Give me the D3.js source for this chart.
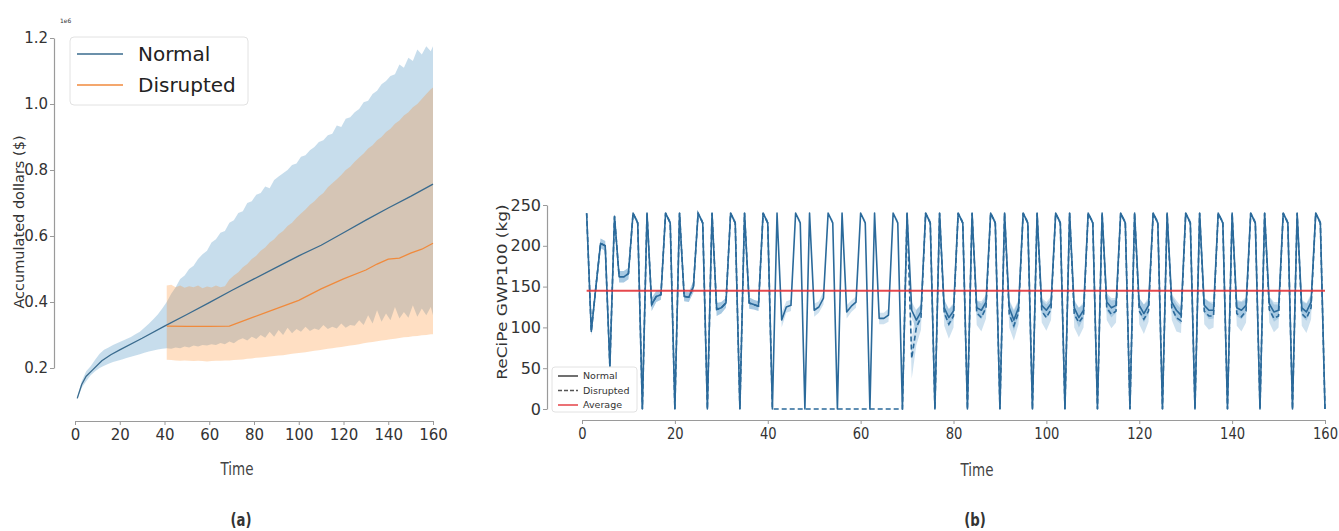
<!DOCTYPE html>
<html><head><meta charset="utf-8">
<script src="https://cdn.jsdelivr.net/npm/d3@7"></script>
<style>
body{margin:0;background:#fff;}
svg{display:block;}
text{font-family:"DejaVu Sans",Verdana,sans-serif;}
</style>
</head><body>
<svg id="c" width="1339" height="531"></svg>
<script>
// ---------------- DATA: panel (a) accumulated dollars (x1e6) ----------------
const normalMeanT = [1, 3, 5, 8, 12, 16, 20, 30, 40, 50, 60, 70, 80, 90, 100, 110, 120, 130, 140, 150, 160];
const normalMean  = [0.108, 0.15, 0.175, 0.195, 0.222, 0.24, 0.255, 0.29, 0.327, 0.362, 0.398, 0.435, 0.47, 0.505, 0.54, 0.572, 0.61, 0.648, 0.685, 0.72, 0.757];
const disruptedMeanT = [41, 50, 60, 69, 80, 90, 100, 110, 120, 130, 135, 140, 145, 150, 155, 160];
const disruptedMean  = [0.327, 0.326, 0.326, 0.327, 0.355, 0.38, 0.405, 0.44, 0.47, 0.497, 0.515, 0.53, 0.533, 0.548, 0.56, 0.578];

const normalBandT = d3.range(1, 160, 2).concat([160]);
const normalUpper = [0.112,0.16,0.19,0.205,0.225,0.243,0.255,0.262,0.27,0.276,
  0.282,0.288,0.294,0.302,0.31,0.322,0.334,0.348,0.362,0.38,
  0.40,0.425,0.445,0.47,0.48,0.50,0.51,0.53,0.545,0.555,
  0.58,0.59,0.61,0.615,0.64,0.648,0.67,0.675,0.70,0.705,
  0.725,0.73,0.75,0.745,0.77,0.78,0.79,0.80,0.815,0.82,
  0.84,0.845,0.86,0.87,0.885,0.89,0.905,0.91,0.935,0.93,
  0.955,0.96,0.975,0.985,1.005,1.01,1.03,1.04,1.06,1.07,
  1.085,1.09,1.12,1.11,1.14,1.13,1.165,1.15,1.175,1.16,1.175];
const normalLower = [0.105,0.14,0.16,0.178,0.19,0.2,0.207,0.213,0.218,0.222,
  0.226,0.23,0.234,0.238,0.242,0.246,0.25,0.253,0.256,0.258,
  0.26,0.258,0.262,0.26,0.265,0.262,0.268,0.265,0.27,0.268,
  0.272,0.27,0.276,0.272,0.28,0.275,0.285,0.29,0.283,0.295,
  0.288,0.30,0.292,0.31,0.295,0.315,0.30,0.322,0.305,0.318,
  0.31,0.325,0.312,0.32,0.315,0.33,0.318,0.325,0.32,0.335,
  0.322,0.33,0.328,0.345,0.33,0.36,0.335,0.375,0.34,0.365,
  0.345,0.385,0.35,0.37,0.352,0.39,0.355,0.38,0.36,0.385,0.36];

const disruptedBandT = d3.range(41, 160, 2).concat([160]);
const disruptedUpper = [0.45,0.452,0.445,0.45,0.443,0.448,0.445,0.45,0.442,0.447,
  0.444,0.45,0.445,0.448,0.468,0.48,0.49,0.505,0.515,0.53,
  0.54,0.555,0.565,0.58,0.59,0.605,0.615,0.63,0.64,0.655,
  0.668,0.68,0.695,0.705,0.72,0.73,0.748,0.76,0.772,0.785,
  0.80,0.81,0.825,0.838,0.85,0.865,0.875,0.89,0.9,0.915,
  0.925,0.94,0.95,0.965,0.975,0.99,1.0,1.015,1.03,1.045,1.05];
const disruptedLower = [0.225,0.224,0.223,0.222,0.223,0.222,0.221,0.222,0.221,0.22,
  0.221,0.222,0.222,0.223,0.223,0.224,0.225,0.226,0.228,0.229,
  0.231,0.232,0.233,0.235,0.236,0.238,0.239,0.241,0.243,0.245,
  0.246,0.248,0.25,0.252,0.254,0.256,0.258,0.26,0.262,0.264,
  0.266,0.268,0.27,0.272,0.275,0.277,0.279,0.281,0.283,0.285,
  0.287,0.289,0.291,0.293,0.294,0.296,0.297,0.299,0.3,0.302,0.302];

const leftXTicks = [0, 20, 40, 60, 80, 100, 120, 140, 160];
const leftYTicks = [0.2, 0.4, 0.6, 0.8, 1.0, 1.2];

// ---------------- DATA: panel (b) ReCiPe GWP100 (kg), t = 1..160 ----------------
const gwpT = d3.range(1, 161);
const normalGWP = [
  240,95,150,203,200,52,236,162,162,166,240,228,0,
  240,128,138,140,240,228,0,
  240,138,137,150,240,228,0,
  240,122,124,130,240,228,0,
  240,130,128,126,240,228,0,
  240,109,125,127,240,228,0,
  240,121,125,136,240,228,0,
  240,119,126,131,240,228,0,
  240,111,111,115,240,228,0,
  240,121,109,119,240,228,0,
  240,124,112,120,240,228,0,
  240,124,121,131,240,228,0,
  240,124,109,124,240,228,0,
  240,127,121,129,240,228,0,
  240,124,112,121,240,228,0,
  240,131,124,127,240,228,0,
  240,127,117,127,240,228,0,
  240,131,121,115,240,228,0,
  240,127,121,121,240,228,0,
  240,124,121,127,240,228,0,
  240,129,119,121,240,228,0,
  240,124,119,131,240,228,0];
const disruptedGWP = [
  240,95,150,203,200,52,236,162,162,166,240,228,0,
  240,128,138,140,240,228,0,
  240,138,137,150,240,228,0,
  240,122,124,130,240,228,0,
  240,130,128,126,240,228,
  0,0,0,0,0,0,0,0,0,0,0,0,0,0,0,0,0,0,0,0,0,0,0,0,0,0,0,0,0,
  240,62,100,112,240,228,0,
  240,118,104,114,240,228,0,
  240,118,112,124,240,228,0,
  240,116,102,118,240,228,0,
  240,120,112,122,240,228,0,
  240,116,106,114,240,228,0,
  240,124,116,120,240,228,0,
  240,120,110,120,240,228,0,
  240,124,112,108,240,228,0,
  240,120,114,114,240,228,0,
  240,117,113,120,240,228,0,
  240,122,111,114,240,228,0,
  240,117,111,124,240,228,0];
const normalSpread = [
  0,5,8,6,6,8,3,7,7,7,0,4,0,
  0,8,7,6,0,4,0,
  0,6,6,7,0,4,0,
  0,8,7,6,0,4,0,
  0,7,6,6,0,4,0,
  0,9,7,7,0,4,0,
  0,8,7,8,0,4,0,
  0,8,7,7,0,4,0,
  0,7,7,8,0,4,0,
  0,10,12,10,0,4,0,
  0,10,11,10,0,4,0,
  0,9,11,9,0,4,0,
  0,10,13,10,0,4,0,
  0,9,10,9,0,4,0,
  0,10,12,10,0,4,0,
  0,11,12,9,0,4,0,
  0,9,11,10,0,4,0,
  0,10,12,11,0,4,0,
  0,9,11,10,0,4,0,
  0,10,11,10,0,4,0,
  0,9,12,10,0,4,0,
  0,10,11,10,0,4,0];
const disruptedSpread = [
  0,5,8,6,6,8,3,7,7,7,0,4,0,
  0,8,7,6,0,4,0,
  0,6,6,7,0,4,0,
  0,8,7,6,0,4,0,
  0,7,6,6,0,4,
  0,0,0,0,0,0,0,0,0,0,0,0,0,0,0,0,0,0,0,0,0,0,0,0,0,0,0,0,0,
  0,25,22,15,0,4,0,
  0,16,18,14,0,4,0,
  0,15,17,13,0,4,0,
  0,16,18,14,0,4,0,
  0,14,16,13,0,4,0,
  0,16,18,14,0,4,0,
  0,15,17,14,0,4,0,
  0,16,18,13,0,4,0,
  0,15,17,15,0,4,0,
  0,16,17,14,0,4,0,
  0,15,18,14,0,4,0,
  0,16,17,14,0,4,0,
  0,15,18,14,0,4,0];
const averageGWP = 145;
const rightXTicks = [0, 20, 40, 60, 80, 100, 120, 140, 160];
const rightYTicks = [0, 50, 100, 150, 200, 250];

// ---------------- DRAWING ----------------
const svg = d3.select("#c");
const AX = "#9a9a9a", TX = "#333";

function styleAxis(g, fs){
  g.select(".domain").attr("stroke", AX).attr("stroke-width", 1.2);
  g.selectAll(".tick line").attr("stroke", AX).attr("stroke-width", 1);
  g.selectAll(".tick text").attr("fill", TX).style("font-size", fs + "px").style("font-family", '"DejaVu Sans", sans-serif');
}
function label(x, y, str, size, weight, sx, fill){
  svg.append("text").attr("transform", `translate(${x},${y}) scale(${sx},1)`)
    .attr("text-anchor", "middle").style("font-size", size + "px")
    .style("font-weight", weight).attr("fill", fill).text(str);
}

// ===== Panel (a) =====
const xL = d3.scaleLinear().domain([0, 160]).range([75, 433]);
const yL = d3.scaleLinear().domain([0.2, 1.2]).range([368, 38]);
const gA = svg.append("g");

const nBand = normalBandT.map((t, i) => ({t, lo: normalLower[i], hi: normalUpper[i]}));
const dBand = disruptedBandT.map((t, i) => ({t, lo: disruptedLower[i], hi: disruptedUpper[i]}));
const areaL = d3.area().x(d => xL(d.t)).y0(d => yL(d.lo)).y1(d => yL(d.hi));
gA.append("path").datum(nBand).attr("d", areaL).attr("fill", "#1f77b4").attr("fill-opacity", 0.25);
gA.append("path").datum(dBand).attr("d", areaL).attr("fill", "#ff7f0e").attr("fill-opacity", 0.25);

const lineL = d3.line().x(d => xL(d[0])).y(d => yL(d[1]));
gA.append("path").datum(normalMeanT.map((t, i) => [t, normalMean[i]])).attr("d", lineL)
  .attr("fill", "none").attr("stroke", "#3a6b8e").attr("stroke-width", 1.3);
gA.append("path").datum(disruptedMeanT.map((t, i) => [t, disruptedMean[i]])).attr("d", lineL)
  .attr("fill", "none").attr("stroke", "#f08a3c").attr("stroke-width", 1.3);

const axLX = gA.append("g").attr("transform", "translate(0,421)")
  .call(d3.axisBottom(xL).tickValues(leftXTicks).tickSize(4).tickSizeOuter(0).tickPadding(4));
styleAxis(axLX, 15);
const axLY = gA.append("g").attr("transform", "translate(54,0)")
  .call(d3.axisLeft(yL).tickValues(leftYTicks).tickFormat(d3.format(".1f")).tickSize(4).tickSizeOuter(0).tickPadding(2));
styleAxis(axLY, 15);

svg.append("text").attr("x", 60).attr("y", 23).style("font-size", "6px").attr("fill", TX).text("1e6");
svg.append("text").attr("transform", "translate(24,222) rotate(-90)").attr("text-anchor", "middle")
  .style("font-size", "14.5px").attr("fill", TX).text("Accumulated dollars ($)");

// legend (a)
const lgA = svg.append("g");
lgA.append("rect").attr("x", 70).attr("y", 37).attr("width", 178).attr("height", 68).attr("rx", 4)
  .attr("fill", "#fff").attr("fill-opacity", 0.85).attr("stroke", "#e2e2e2");
lgA.append("line").attr("x1", 77).attr("x2", 123).attr("y1", 54).attr("y2", 54).attr("stroke", "#3a6b8e").attr("stroke-width", 1.3);
lgA.append("line").attr("x1", 77).attr("x2", 123).attr("y1", 85).attr("y2", 85).attr("stroke", "#f08a3c").attr("stroke-width", 1.3);
lgA.append("text").attr("x", 138).attr("y", 61).style("font-size", "20px").attr("fill", "#222").text("Normal");
lgA.append("text").attr("x", 138).attr("y", 92).style("font-size", "20px").attr("fill", "#222").text("Disrupted");

label(237, 475, "Time", 18, "normal", 0.75, "#444");
label(241, 526, "(a)", 17, "bold", 0.78, "#333");

// ===== Panel (b) =====
const xR = d3.scaleLinear().domain([0, 160]).range([582, 1325]);
const yR = d3.scaleLinear().domain([0, 250]).range([409, 205]);
const gB = svg.append("g");

const areaR = d3.area().x(d => xR(d.t)).y0(d => yR(d.v - d.s)).y1(d => yR(d.v + d.s));
const nRows = gwpT.map((t, i) => ({t, v: normalGWP[i], s: normalSpread[i]}));
const dRows = gwpT.map((t, i) => ({t, v: disruptedGWP[i], s: disruptedSpread[i]}));
gB.append("path").datum(nRows).attr("d", areaR).attr("fill", "#1f77b4").attr("fill-opacity", 0.22);
gB.append("path").datum(dRows).attr("d", areaR).attr("fill", "#1f77b4").attr("fill-opacity", 0.22);

const lineR = d3.line().x(d => xR(d.t)).y(d => yR(d.v));
gB.append("path").datum(nRows).attr("d", lineR).attr("fill", "none")
  .attr("stroke", "#2b6a9b").attr("stroke-width", 1.6).attr("stroke-linejoin", "round");
gB.append("path").datum(dRows).attr("d", lineR).attr("fill", "none")
  .attr("stroke", "#2b6a9b").attr("stroke-width", 1.6).attr("stroke-dasharray", "5,3");
gB.append("path").datum([1, 160].map(t => ({t, v: averageGWP}))).attr("d", lineR)
  .attr("fill", "none").attr("stroke", "#e3343a").attr("stroke-width", 2).attr("stroke-opacity", 0.9);

const axRX = gB.append("g").attr("transform", "translate(0,420)")
  .call(d3.axisBottom(xR).tickValues(rightXTicks).tickSize(4).tickSizeOuter(0).tickPadding(4));
styleAxis(axRX, 16);
axRX.selectAll(".tick text").attr("transform", "scale(0.82,1)").each(function(){ const t = d3.select(this.parentNode).attr("transform"); });
// compensate scale on x position
axRX.selectAll(".tick").each(function(d){
  d3.select(this).select("text").attr("transform", "scale(0.82,1)");
});
const axRY = gB.append("g").attr("transform", "translate(547,0)")
  .call(d3.axisLeft(yR).tickValues(rightYTicks).tickSize(4).tickSizeOuter(0).tickPadding(2));
styleAxis(axRY, 16);

svg.append("text").attr("transform", "translate(507,292) rotate(-90) scale(1,0.85)").attr("text-anchor", "middle")
  .style("font-size", "17px").attr("fill", TX).text("ReCiPe GWP100 (kg)");

// legend (b)
const lgB = svg.append("g");
lgB.append("rect").attr("x", 552).attr("y", 367).attr("width", 85).attr("height", 45).attr("rx", 3)
  .attr("fill", "#fff").attr("fill-opacity", 0.85).attr("stroke", "#e2e2e2");
const lgRows = [
  {name: "Normal", color: "#333", dash: null},
  {name: "Disrupted", color: "#555", dash: "4,2"},
  {name: "Average", color: "#e3343a", dash: null}];
lgRows.forEach((r, i) => {
  const y = 376 + i * 14.5;
  lgB.append("line").attr("x1", 558).attr("x2", 578).attr("y1", y).attr("y2", y)
    .attr("stroke", r.color).attr("stroke-width", 1.4).attr("stroke-dasharray", r.dash);
  lgB.append("text").attr("x", 583).attr("y", y + 3.3).style("font-size", "9.5px").attr("fill", "#333").text(r.name);
});

label(977, 476, "Time", 18, "normal", 0.75, "#444");
label(975, 526, "(b)", 17, "bold", 0.78, "#333");
</script>
</body></html>
